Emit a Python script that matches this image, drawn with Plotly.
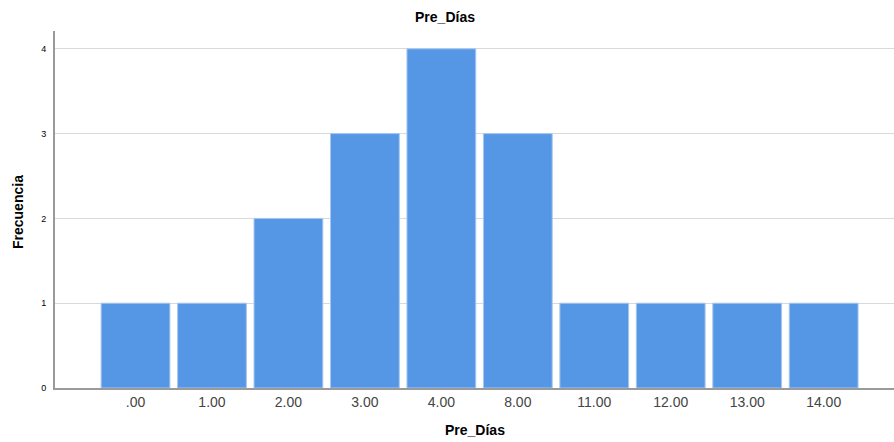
import plotly.graph_objects as go

categories = [".00", "1.00", "2.00", "3.00", "4.00", "8.00", "11.00", "12.00", "13.00", "14.00"]
frecuencia = [1, 1, 2, 3, 4, 3, 1, 1, 1, 1]
y_ticks = [0, 1, 2, 3, 4]

fig = go.Figure()
fig.add_trace(go.Bar(
    x=categories, y=frecuencia, width=0.9,
    marker=dict(color="#5596E5", line=dict(color="#A9C8F0", width=1)),
))

fig.update_layout(
    width=894, height=442,
    margin=dict(l=55, r=0, t=31, b=54),
    plot_bgcolor="white", paper_bgcolor="white",
    showlegend=False,
    font=dict(family="Arial, Liberation Sans, sans-serif"),
    title=dict(text="<b>Pre_Días</b>", x=445/894, xanchor="center",
               y=1 - 17/442, yanchor="middle", yref="container",
               font=dict(size=14, color="black")),
    xaxis=dict(
        type="category", range=[-1.053, 9.92],
        showline=True, linecolor="#9a9a9a", linewidth=2,
        ticks="", showgrid=False,
        tickfont=dict(size=14, color="#444444"),
    ),
    yaxis=dict(
        range=[0, 4.21], tickvals=y_ticks,
        showline=True, linecolor="#9a9a9a", linewidth=2,
        ticks="", ticklabelstandoff=5,
        showgrid=True, gridcolor="#d9d9d9", gridwidth=1,
        zeroline=False,
        tickfont=dict(size=9, color="black"),
    ),
    annotations=[
        dict(text="<b>Pre_Días</b>", xref="paper", yref="paper", x=(475-55)/839, y=0,
             xanchor="center", yanchor="middle", yshift=-42, showarrow=False,
             font=dict(size=14, color="black")),
        dict(text="<b>Frecuencia</b>", xref="paper", yref="paper", x=0, y=(388-212)/357,
             xanchor="center", yanchor="middle", xshift=-37, textangle=-90, showarrow=False,
             font=dict(size=14, color="black")),
    ],
)

fig.write_html("out.html", config={"displayModeBar": False},
               post_script="document.body.style.margin='0';document.body.style.overflow='hidden';")
